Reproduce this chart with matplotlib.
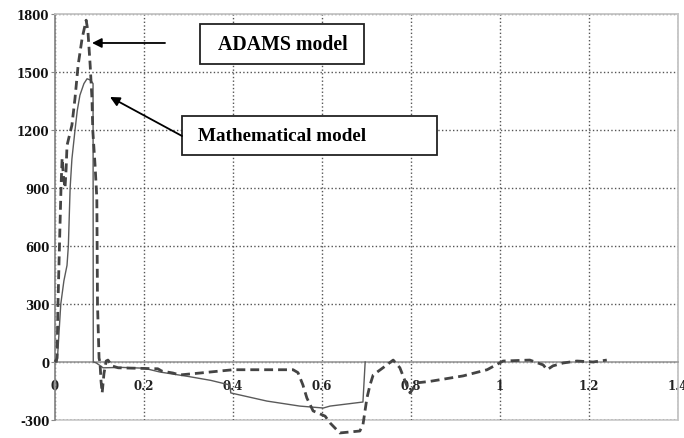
import matplotlib
matplotlib.use('Agg')
import matplotlib.pyplot as plt
from matplotlib.patches import Rectangle

# ADAMS model (dashed)
adams_t = [0, 0.0045, 0.007, 0.010, 0.0135, 0.016, 0.019, 0.0225, 0.025, 0.027, 0.038,
           0.045, 0.052, 0.061, 0.070, 0.074, 0.079, 0.083, 0.085, 0.090, 0.094, 0.0955,
           0.099, 0.101, 0.1035, 0.106, 0.110, 0.115, 0.119, 0.128, 0.142, 0.231, 0.240,
           0.265, 0.28, 0.326, 0.40, 0.535, 0.546, 0.557, 0.566, 0.58, 0.607, 0.618,
           0.64, 0.685, 0.692, 0.701, 0.708, 0.715, 0.737, 0.76, 0.775, 0.791, 0.798,
           0.813, 0.843, 0.917, 0.971, 1.007, 1.067, 1.097, 1.106, 1.119, 1.142, 1.173,
           1.209, 1.24]
adams_f = [0, 20, 330, 600, 900, 1054, 960, 900, 1000, 1120, 1225,
           1365, 1536, 1675, 1768, 1711, 1536, 1365, 1194, 1018, 848, 300,
           20, 0, -100, -160, -60, 5, 10, -20, -30, -35, -47,
           -57, -67, -57, -40, -40, -55, -118, -186, -253, -280, -315,
           -367, -357, -325, -186, -118, -67, -30, 10, -30, -124, -160,
           -108, -100, -72, -40, 5, 10, -15, -40, -20, -5, 5,
           0, 10]

# Mathematical model (solid)
math_t = [0, 0.005, 0.013, 0.02, 0.027, 0.03, 0.034, 0.038, 0.045, 0.05, 0.056,
          0.065, 0.072, 0.080, 0.0855, 0.086, 0.093, 0.108, 0.15, 0.2, 0.236,
          0.3, 0.35, 0.393, 0.395, 0.476, 0.55, 0.603, 0.618, 0.692, 0.697]
math_f = [0, 0, 300, 420, 500, 600, 900, 1050, 1200, 1300, 1380,
          1440, 1465, 1458, 1440, 0, -5, -30, -28, -32, -52,
          -75, -95, -119, -160, -202, -228, -238, -228, -207, 0]

xticks = [0, 0.2, 0.4, 0.6, 0.8, 1, 1.2, 1.4]
xlabels = ['0', '0.2', '0.4', '0.6', '0.8', '1', '1.2', '1.4']
yticks = [-300, 0, 300, 600, 900, 1200, 1500, 1800]

fig = plt.figure(figsize=(6.84, 4.39), dpi=100)
ax = fig.add_axes([55/684, 18/439, 623/684, 406/439])

ax.set_xlim(0, 1.4)
ax.set_ylim(-300, 1800)

ax.plot(math_t, math_f, color='#5a5a5a', linewidth=1.0, zorder=3)
ax.plot(adams_t, adams_f, color='#444444', linewidth=2.0, linestyle=(0, (3.2, 1.8)),
        zorder=4, clip_on=False)

ax.grid(True, linestyle=':', color='#555555', linewidth=1.0)
ax.set_axisbelow(True)

ax.spines['bottom'].set_position(('data', 0))
ax.spines['bottom'].set_color('#9a9a9a')
ax.spines['bottom'].set_linewidth(1.2)
ax.spines['left'].set_color('#8a8a8a')
ax.spines['left'].set_linewidth(1.2)
for s in ['top', 'right']:
    ax.spines[s].set_color('#c8c8c8')
    ax.spines[s].set_linewidth(1.2)
ax.add_patch(Rectangle((0, 0), 1, 1, transform=ax.transAxes, fill=False,
                       edgecolor='#c8c8c8', linewidth=1.2, zorder=0, clip_on=False))

tick_font = dict(family='DejaVu Serif', weight='bold', size=8.5)
ax.set_xticks(xticks)
ax.set_xticklabels(xlabels, fontdict=tick_font, color='#222222')
ax.set_yticks(yticks)
ax.set_yticklabels([str(v) for v in yticks], fontdict=tick_font, color='#111111')
ax.tick_params(axis='x', length=0, pad=12)
ax.tick_params(axis='y', length=3, pad=1, color='#888888')

# annotation boxes and arrows
ax.add_patch(Rectangle((0.2327, 0.8768), 0.2633, 0.0986, transform=ax.transAxes,
                       facecolor='white', edgecolor='#222222', linewidth=1.3, zorder=6))
ax.text(0.366, 0.9261, 'ADAMS model', transform=ax.transAxes, fontsize=14.3,
        family='Liberation Serif', weight='bold', ha='center', va='center', zorder=7)
ax.annotate('', xy=(0.0594, 0.9286), xytext=(0.1766, 0.9286),
            xycoords='axes fraction', textcoords='axes fraction',
            arrowprops=dict(arrowstyle='-|>', color='black', lw=1.3, mutation_scale=14,
                            shrinkA=0, shrinkB=0), zorder=7)

ax.add_patch(Rectangle((0.2039, 0.6527), 0.4093, 0.0961, transform=ax.transAxes,
                       facecolor='white', edgecolor='#222222', linewidth=1.3, zorder=6))
ax.text(0.2295, 0.7007, 'Mathematical model', transform=ax.transAxes, fontsize=13.8,
        family='Liberation Serif', weight='bold', ha='left', va='center', zorder=7)
ax.annotate('', xy=(0.0883, 0.7956), xytext=(0.2039, 0.6995),
            xycoords='axes fraction', textcoords='axes fraction',
            arrowprops=dict(arrowstyle='-|>', color='black', lw=1.3, mutation_scale=14,
                            shrinkA=0, shrinkB=0), zorder=7)

fig.savefig('out.png', dpi=100)
